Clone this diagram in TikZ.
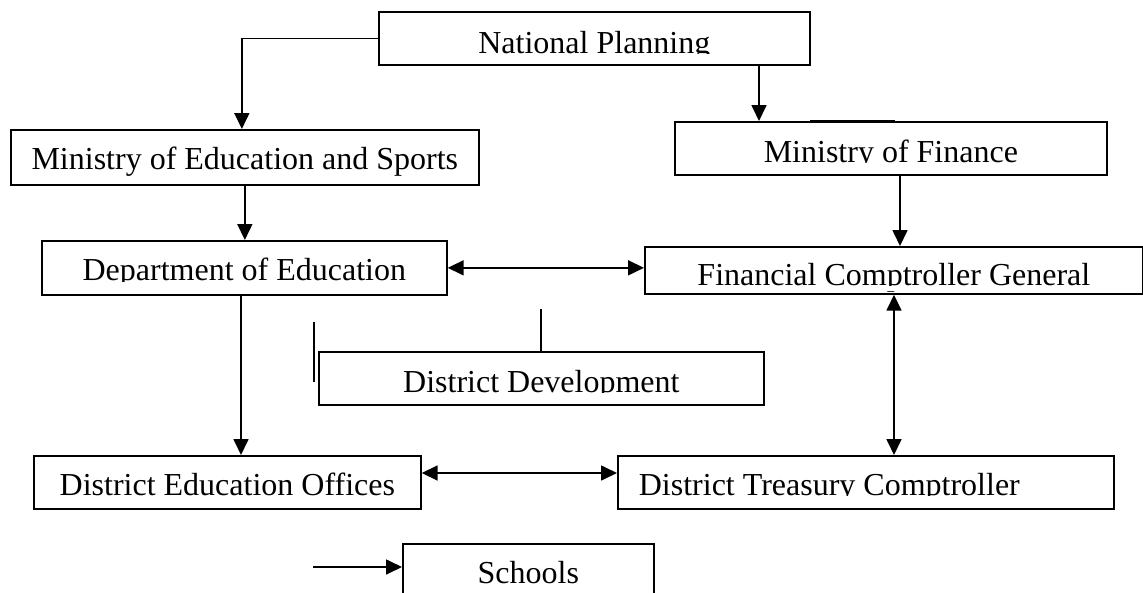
\documentclass[tikz,border=0pt]{standalone}
\usepackage{fontspec}
\setmainfont{Liberation Serif}
\usetikzlibrary{arrows.meta}
\begin{document}
\begin{tikzpicture}[x=1pt,y=-1pt,
  every node/.style={font=\fontsize{32}{38}\selectfont},
  box/.style={draw, line width=1.7pt, inner sep=0pt, anchor=north west},
  conn/.style={line width=1.7pt},
  tip/.style={},
  arr/.style={conn, -{Triangle[length=16pt,width=15pt]}},
  darr/.style={conn, {Triangle[length=16pt,width=15pt]}-{Triangle[length=16pt,width=15pt]}},
  cover/.style={fill=white, draw=none}]
\useasboundingbox (0,0) rectangle (1143,592);
% boxes: text height = baseline - top, text depth = bottom - baseline
\node[box, minimum width=431pt, text height=42pt, text depth=11pt] (np) at (378,11) {National Planning};
\node[box, minimum width=468pt, text height=40pt, text depth=15pt] (moes) at (10,129) {Ministry of Education and Sports};
\node[box, minimum width=432pt, text height=41pt, text depth=12pt] (mof) at (674,121) {Ministry of Finance};
\node[box, minimum width=405pt, text height=40pt, text depth=14pt] (doe) at (41,240) {Department of Education};
\node[box, minimum width=498pt, text height=39pt, text depth=8pt] (fcg) at (644,246) {Financial Comptroller General};
\node[box, minimum width=445pt, text height=41pt, text depth=12pt] (dd) at (318,351) {District Development};
\node[box, minimum width=387pt, text height=40pt, text depth=13pt] (deo) at (33,455) {District Education Offices};
\node[box, text height=40pt, text depth=13pt] (dtc) at (617,455) {\makebox[496pt][l]{\hspace*{21pt}District Treasury Comptroller}};
\node[box, minimum width=251pt, text height=40pt, text depth=20pt] (sch) at (402,543) {Schools};
% clipped descenders (as in the reference)
\fill[cover] (380,54) rectangle (807,62.3);
\fill[cover] (676,163) rectangle (1104,172.3);
\fill[cover] (43,282) rectangle (444,292.3);
\fill[cover] (646,286) rectangle (1140,291.3);
\fill[cover] (320,393) rectangle (761,402.3);
\fill[cover] (619,496) rectangle (1111,506.3);
% thicker segment on top of Ministry of Finance
\draw[line width=2.6pt] (810,121) -- (895,121);
% helper coordinates
\coordinate (x759) at (759,0);
\coordinate (x900) at (900,0);
\coordinate (x894) at (894,0);
\coordinate (x241) at (241,0);
\coordinate (y473) at (0,473);
\coordinate (ddtop) at (541,309);
\coordinate (barA) at (314,322);
\coordinate (barB) at (314,382);
\coordinate (schin) at (313,567);
% connectors
\draw[arr] (np.west) -| ([xshift=-3pt]moes.north);
\draw[arr] (np.south -| x759) -- (mof.north -| x759);
\draw[arr] (moes.south) -- (moes.south |- doe.north);
\draw[darr] (doe.east) -- (doe.east -| fcg.west);
\draw[arr] (mof.south -| x900) -- (fcg.north -| x900);
\draw[arr] (doe.south -| x241) -- (deo.north -| x241);
\draw[conn] (ddtop) -- (dd.north -| ddtop);
\draw[line width=2.2pt] (barA) -- (barB);
\draw[darr] (fcg.south -| x894) -- (dtc.north -| x894);
\draw[darr] (deo.east |- y473) -- (dtc.west |- y473);
\draw[arr] (schin) -- (schin -| sch.west);
\end{tikzpicture}
\end{document}
